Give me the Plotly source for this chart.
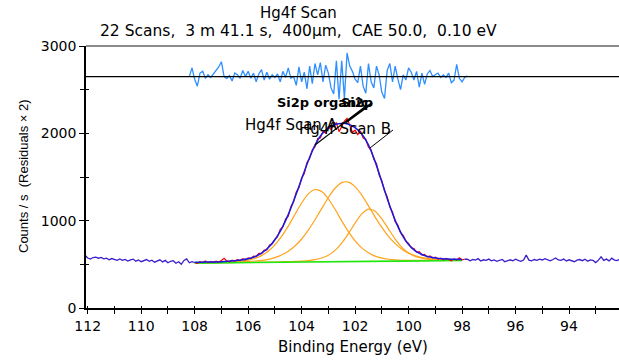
import numpy as np
import plotly.graph_objects as go

# ---------------- data ----------------
# raw spectrum outside the fitted region (Binding energy, 0.1 eV steps)
E_LEFT_START, E_LEFT_END = 112.1, 108.0
CPS_LEFT = [605, 572, 560, 578, 582, 570, 580, 562, 570, 552,
            566, 558, 546, 562, 545, 556, 538, 552, 560, 536,
            550, 530, 542, 555, 534, 548, 525, 540, 552, 528,
            545, 518, 535, 542, 512, 530, 500, 545, 562, 518,
            530, 521]

E_RIGHT_START, E_RIGHT_END = 97.9, 92.0
CPS_RIGHT = [558, 560, 540, 555, 548, 565, 538, 552, 545, 560,
             540, 550, 535, 548, 556, 530, 545, 552, 540, 558,
             545, 535, 550, 605, 548, 540, 555, 545, 560, 550,
             565, 548, 540, 555, 572, 550, 545, 560, 538, 552,
             545, 530, 548, 555, 542, 558, 536, 550, 545, 520,
             548, 585, 545, 560, 540, 570, 548, 542, 560, 552]

# raw spectrum inside the fitted region (red)
E_REG_START, E_REG_END = 108.0, 97.9
CPS_REGION = [521, 512, 531, 520, 538, 519, 531, 522, 537, 526,
              545, 568, 539, 529, 548, 537, 554, 544, 564, 551,
              573, 565, 594, 589, 625, 622, 662, 665, 722, 736,
              787, 817, 900, 929, 1018, 1051, 1162, 1217, 1327, 1377,
              1489, 1541, 1666, 1712, 1812, 1844, 1940, 1946, 2024, 2003,
              2078, 2043, 2103, 2119, 2019, 2074, 2140, 2172, 2087, 2012,
              2036, 1986, 2027, 1947, 1932, 1842, 1809, 1702, 1652, 1523,
              1457, 1341, 1275, 1157, 1096, 989, 950, 863, 833, 766,
              741, 690, 681, 637, 645, 607, 614, 583, 597, 573,
              583, 560, 572, 551, 569, 550, 541, 563, 549, 576,
              551, 558]

# fit curves, 0.25 eV steps from 108.0 to 98.0
E_FIT_START, E_FIT_END = 108.0, 98.0
BACKGROUND = [514, 515, 516, 516, 517, 518, 519, 519, 520, 521,
              522, 522, 523, 524, 525, 525, 526, 527, 528, 528,
              529, 530, 531, 531, 532, 533, 534, 534, 535, 536,
              537, 537, 538, 539, 540, 540, 541, 542, 543, 543, 544]
COMP_SI2P_ORGANIC = [518, 520, 521, 522, 524, 527, 531, 537, 548, 567,
                     600, 650, 723, 819, 938, 1071, 1202, 1306, 1357, 1335,
                     1251, 1130, 997, 874, 768, 688, 632, 594, 571, 558,
                     551, 547, 545, 545, 545, 544, 545, 545, 546, 546, 547]
COMP_SI2P = [518, 519, 521, 521, 523, 525, 527, 529, 533, 538,
             546, 557, 577, 607, 650, 710, 790, 891, 1011, 1138,
             1265, 1371, 1436, 1442, 1390, 1292, 1170, 1041, 923, 820,
             737, 673, 628, 597, 578, 565, 558, 554, 552, 550, 550]
COMP_HG4F_B = [515, 516, 517, 517, 518, 520, 521, 521, 522, 524,
               525, 526, 527, 529, 531, 533, 537, 543, 554, 572,
               605, 660, 743, 851, 972, 1078, 1133, 1109, 1021, 904,
               789, 695, 630, 591, 570, 557, 552, 549, 548, 547, 547]
ENVELOPE = [523, 525, 527, 528, 531, 536, 541, 549, 563, 587,
            627, 689, 781, 907, 1069, 1264, 1477, 1686, 1866, 1989,
            2063, 2101, 2114, 2105, 2066, 1992, 1867, 1676, 1445, 1210,
            1003, 841, 727, 655, 613, 586, 573, 564, 560, 557, 556]

# residuals (x2), drawn about an offset line
E_RES_START, E_RES_END = 108.2, 97.8
RESID_OFFSET = 2650
RESIDUALS = [0, 100, -30, -110, 40, 60, -20, 20, -10, 30,
             60, 110, 170, 0, -20, 10, -50, 40, 20, -20,
             70, 0, 60, -20, 40, -60, 30, 80, -40, 50,
             -30, 20, -10, 30, -60, 60, -10, 100, -20, 0,
             -100, 110, -60, 50, -140, 120, -80, 150, 20, 160,
             -60, 130, 40, -130, -200, 180, -260, 180, -250, 270,
             120, 60, -30, -70, 120, -110, -190, 150, -60, -130,
             120, 20, -180, -250, 70, 150, -60, 120, -30, -150,
             20, -40, 100, 50, -40, 60, -120, 40, -90, 30,
             70, 0, 20, 40, -10, 20, -10, 40, -70, -40,
             140, -20, -60, -10, 10]

X_TICKS = [112, 110, 108, 106, 104, 102, 100, 98, 96, 94]
Y_TICKS = [0, 1000, 2000, 3000]
X_RANGE = [112.064, 92.13]
Y_RANGE = [0, 3000]


def grid(start, end, n):
    return np.round(np.linspace(start, end, n), 2)


e_left = grid(E_LEFT_START, E_LEFT_END, len(CPS_LEFT))
e_right = grid(E_RIGHT_START, E_RIGHT_END, len(CPS_RIGHT))
e_reg = grid(E_REG_START, E_REG_END, len(CPS_REGION))
e_fit = grid(E_FIT_START, E_FIT_END, len(ENVELOPE))
e_res = grid(E_RES_START, E_RES_END, len(RESIDUALS))

FONT = "DejaVu Sans, Liberation Sans, Arial, sans-serif"
ORANGE = "#ffa31a"

fig = go.Figure()
for comp in (COMP_SI2P_ORGANIC, COMP_SI2P, COMP_HG4F_B):
    fig.add_trace(go.Scatter(x=e_fit, y=comp, mode="lines",
                             line=dict(color=ORANGE, width=1.2, shape="spline", smoothing=0.6),
                             showlegend=False, hoverinfo="skip"))
fig.add_trace(go.Scatter(x=e_fit, y=BACKGROUND, mode="lines", line=dict(color="#22e60f", width=1.6),
                         showlegend=False, hoverinfo="skip"))
fig.add_trace(go.Scatter(x=e_reg, y=CPS_REGION, mode="lines", line=dict(color="#ff0000", width=1.2),
                         showlegend=False, hoverinfo="skip"))
fig.add_trace(go.Scatter(x=e_fit, y=ENVELOPE, mode="lines",
                         line=dict(color="#1a1ae0", width=1.5, shape="spline", smoothing=0.6),
                         showlegend=False, hoverinfo="skip"))
for ex, cy in ((e_left, CPS_LEFT), (e_right, CPS_RIGHT)):
    fig.add_trace(go.Scatter(x=ex, y=cy, mode="lines", line=dict(color="#3a1fcc", width=1.3),
                             showlegend=False, hoverinfo="skip"))
fig.add_trace(go.Scatter(x=e_res, y=[RESID_OFFSET + r for r in RESIDUALS], mode="lines",
                         line=dict(color="#2e8fff", width=1.3), showlegend=False, hoverinfo="skip"))
# dummy trace for the overlay (inner tick) axes
fig.add_trace(go.Scatter(x=[None], y=[None], xaxis="x2", yaxis="y2", showlegend=False, hoverinfo="skip"))

# residual zero line and top frame line
fig.add_shape(type="line", xref="paper", yref="y", x0=0, x1=1, y0=RESID_OFFSET, y1=RESID_OFFSET,
              line=dict(color="#000000", width=1.2))
fig.add_shape(type="line", xref="paper", yref="paper", x0=0, x1=1, y0=1, y1=1,
              line=dict(color="#8a8a8a", width=2))

# peak labels and leader lines
LABELS = [
    ("Si2p organic", 105.0, 2358, 13, "bold"),
    ("Si2p", 102.6, 2358, 13, "bold"),
    ("Hg4f Scan A", 106.19, 2099, 15, "normal"),
    ("Hg4f Scan B", 104.17, 2049, 15, "normal"),
]
for text, lx, ly, size, weight in LABELS:
    fig.add_annotation(x=lx, y=ly, xref="x", yref="y", text=text, showarrow=False,
                       xanchor="left", yanchor="middle",
                       font=dict(family=FONT, size=size, color="black", weight=weight))
LEADERS = [
    ((101.368, 2346), (102.34, 2129), 2.2),
    ((101.555, 2323), (103.50, 1866), 1.2),
    ((100.583, 2038), (101.443, 1832), 1.0),
]
for (x0, y0), (x1, y1), w in LEADERS:
    fig.add_shape(type="line", xref="x", yref="y", x0=x0, y0=y0, x1=x1, y1=y1,
                  line=dict(color="black", width=w))

# titles
fig.add_annotation(x=(298 - 86) / 533, y=(308 - 13.5) / 262, xref="paper", yref="paper", text="Hg4f Scan",
                   showarrow=False, xanchor="center", yanchor="middle",
                   font=dict(family=FONT, size=15, color="black"))
fig.add_annotation(x=(298 - 86) / 533, y=(308 - 31.5) / 262, xref="paper", yref="paper",
                   text="22 Scans,  3 m 41.1 s,  400µm,  CAE 50.0,  0.10 eV",
                   showarrow=False, xanchor="center", yanchor="middle",
                   font=dict(family=FONT, size=15.5, color="black"))
fig.add_annotation(x=(353 - 86) / 533, y=(308 - 347) / 262, xref="paper", yref="paper",
                   text="Binding Energy (eV)",
                   showarrow=False, xanchor="center", yanchor="middle",
                   font=dict(family=FONT, size=15, color="black"))
fig.add_annotation(x=(23 - 86) / 533, y=(308 - 176) / 262, xref="paper", yref="paper",
                   text="Counts / s  (Residuals × 2)", textangle=-90,
                   showarrow=False, xanchor="center", yanchor="middle",
                   font=dict(family="Liberation Sans, Arial, sans-serif", size=13, color="black"))

fig.update_layout(
    width=619, height=360,
    margin=dict(l=86, r=0, t=46, b=52),
    paper_bgcolor="white", plot_bgcolor="white",
    xaxis=dict(range=X_RANGE, tickvals=X_TICKS, ticks="outside", ticklen=4, tickwidth=1.3, tickcolor="black",
               showline=True, linecolor="black", linewidth=1.6, showgrid=False, zeroline=False,
               tickfont=dict(family=FONT, size=14, color="black"),
               minor=dict(dtick=1, tick0=0, ticks="outside", ticklen=4, tickwidth=1.2,
                          tickcolor="black", showgrid=False)),
    xaxis2=dict(range=X_RANGE, overlaying="x", anchor="y2", side="bottom", tickmode="linear", tick0=0, dtick=1,
                ticks="inside", ticklen=2, tickwidth=1.2, tickcolor="black", showticklabels=False,
                showline=False, showgrid=False, zeroline=False),
    yaxis=dict(range=Y_RANGE, tickvals=Y_TICKS, ticks="outside", ticklen=5, tickwidth=1.3, tickcolor="black",
               showline=True, linecolor="black", linewidth=1.6, showgrid=False, zeroline=False,
               tickfont=dict(family=FONT, size=14, color="black"),
               minor=dict(dtick=500, tick0=0, ticks="outside", ticklen=4, tickwidth=1.2,
                          tickcolor="black", showgrid=False)),
    yaxis2=dict(range=Y_RANGE, overlaying="y", anchor="x2", side="left", tickmode="linear", tick0=0, dtick=500,
                ticks="inside", ticklen=3, tickwidth=1.2, tickcolor="black", showticklabels=False,
                showline=False, showgrid=False, zeroline=False),
)

fig.write_html("out.html")
